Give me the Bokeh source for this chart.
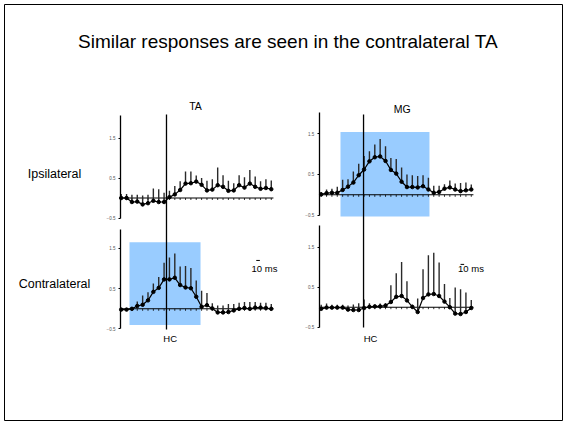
from bokeh.plotting import figure
from bokeh.models import Range1d, LinearAxis, FixedTicker, ColumnDataSource
from bokeh.embed import file_html
from bokeh.resources import INLINE
from bokeh.core.properties import value

# ---------------- data ----------------
title_text = "Similar responses are seen in the contralateral TA"
muscles = ["TA", "MG"]
sides = ["Ipsilateral", "Contralateral"]
event_label = "HC"
scale_label = "10 ms"

bins = list(range(29))          # time bins
hc_bin_ta = 8.45                # HC event position (bins), TA column
hc_bin_mg = 7.9                 # HC event position (bins), MG column
scale_bins = 0.67               # 10 ms expressed in bins

ta_ipsi_mean = [0.0, 0.0, -0.1, -0.09, -0.16, -0.13, -0.07, -0.1, -0.1, 0.02, 0.09, 0.2, 0.36, 0.37, 0.41,
                0.33, 0.19, 0.21, 0.32, 0.28, 0.18, 0.19, 0.32, 0.26, 0.36, 0.28, 0.23, 0.25, 0.22]
ta_ipsi_sem = [0.1, 0.1, 0.18, 0.17, 0.22, 0.21, 0.31, 0.32, 0.23, 0.16, 0.21, 0.22, 0.3, 0.29, 0.15,
               0.17, 0.24, 0.26, 0.44, 0.29, 0.25, 0.18, 0.25, 0.26, 0.34, 0.26, 0.19, 0.22, 0.22]

mg_ipsi_mean = [0.01, 0.04, 0.05, 0.05, 0.12, 0.2, 0.3, 0.48, 0.62, 0.82, 0.92, 0.94, 0.83, 0.61, 0.52,
                0.32, 0.19, 0.19, 0.18, 0.21, 0.13, 0.05, 0.07, 0.15, 0.18, 0.13, 0.09, 0.11, 0.13]
mg_ipsi_sem = [0.06, 0.09, 0.1, 0.15, 0.25, 0.18, 0.27, 0.28, 0.33, 0.25, 0.31, 0.43, 0.36, 0.29, 0.36,
               0.35, 0.31, 0.29, 0.28, 0.27, 0.29, 0.17, 0.15, 0.11, 0.17, 0.15, 0.2, 0.19, 0.12]

ta_contra_mean = [-0.02, -0.02, 0.0, 0.07, 0.1, 0.21, 0.42, 0.52, 0.73, 0.73, 0.77, 0.59, 0.53, 0.51, 0.3,
                  0.05, 0.09, 0.01, -0.09, -0.09, -0.08, -0.04, 0.0, 0.02, 0.0, 0.03, 0.03, 0.02, 0.0]
ta_contra_sem = [0.04, 0.04, 0.04, 0.11, 0.23, 0.2, 0.21, 0.27, 0.41, 0.54, 0.6, 0.46, 0.53, 0.5, 0.4,
                 0.4, 0.3, 0.13, 0.17, 0.17, 0.2, 0.16, 0.15, 0.15, 0.17, 0.14, 0.12, 0.13, 0.12]

mg_contra_mean = [-0.04, -0.01, -0.01, -0.01, -0.01, -0.06, -0.07, -0.07, -0.02, 0.01, 0.02, 0.02, 0.04, 0.13,
                  0.26, 0.28, 0.17, 0.01, -0.12, 0.23, 0.32, 0.33, 0.28, 0.14, 0.0, -0.16, -0.17, -0.12, -0.02]
mg_contra_sem = [0.1, 0.1, 0.07, 0.07, 0.07, 0.1, 0.14, 0.17, 0.21, 0.09, 0.05, 0.07, 0.06, 0.42,
                 0.59, 0.85, 0.48, 0.05, 0.34, 0.72, 0.98, 1.03, 0.84, 0.44, 0.23, 0.65, 0.62, 0.49, 0.2]

# analysis windows (bins, response units): left, right, bottom, top
mg_ipsi_window = [3.6, 20.2, -0.53, 1.54]
ta_contra_window = [1.55, 14.8, -0.4, 1.65]

y_ticks = [-0.5, 0.5, 1.5]

# ---------------- layout ----------------
W, H = 564, 424
FX0, FY0, FX1, FY1 = 4, 4, 562, 420   # slide frame in page pixels
FW, FH = FX1 - FX0, FY1 - FY0
FONT = "Liberation Sans"


def xrange_for(page_first, k):
    s = -(page_first - FX0) / k
    return Range1d(s, s + FW / k)


def yrange_for(page_zero, k):
    f0 = page_zero - FY0
    return Range1d(-(FH - f0) / k, f0 / k)


p = figure(width=W, height=H, output_backend="svg", toolbar_location=None,
           x_range=Range1d(FX0, FX1), y_range=Range1d(FY1, FY0),
           x_axis_type=None, y_axis_type=None,
           min_border_left=FX0, min_border_right=W - FX1,
           min_border_top=FY0, min_border_bottom=H - FY1)
p.outline_line_color = "black"
p.outline_line_width = 1
p.background_fill_color = "white"
p.border_fill_color = "white"

p.extra_x_ranges = {"ta": xrange_for(120.7, 5.36), "mg": xrange_for(320.7, 5.36)}
p.extra_y_ranges = {
    "ta_i": yrange_for(197.5, 40.0),
    "mg_i": yrange_for(194.3, 40.8),
    "ta_c": yrange_for(308.3, 40.3),
    "mg_c": yrange_for(306.7, 40.0),
}


def panel(xr, yr, mean, sem, axis_x, top_bound, window=None):
    kw = dict(x_range_name=xr, y_range_name=yr)
    if window is not None:
        p.quad(left=[window[0]], right=[window[1]], bottom=[window[2]], top=[window[3]],
               fill_color="#99ccff", line_color=None, **kw)
    src = ColumnDataSource(dict(x=bins, y=mean, top=[m + s for m, s in zip(mean, sem)]))
    # zero line with bin ticks
    p.segment(x0=[axis_x], y0=[0], x1=[bins[-1] + 0.4], y1=[0], line_color="black", line_width=1.1, **kw)
    p.segment(x0=bins, y0=[0] * len(bins), x1=bins, y1=[-0.05] * len(bins),
              line_color="black", line_width=0.8, **kw)
    # upward error bars
    p.segment(x0="x", y0="y", x1="x", y1="top", source=src, line_color="#2a2a2a", line_width=1.4, **kw)
    p.line(x="x", y="y", source=src, line_color="black", line_width=1.2, **kw)
    p.scatter(x="x", y="y", source=src, size=3.5, color="black", **kw)
    ax = LinearAxis(x_range_name=xr, y_range_name=yr, fixed_location=axis_x,
                    bounds=(-0.5, top_bound), ticker=FixedTicker(ticks=y_ticks))
    ax.axis_line_color = "black"
    ax.axis_line_width = 1.3
    ax.major_tick_line_color = "black"
    ax.major_tick_out = 2
    ax.major_tick_in = 0
    ax.minor_tick_line_color = None
    ax.major_label_text_font = FONT
    ax.major_label_text_font_size = "4.5px"
    ax.major_label_text_color = "#555555"
    ax.major_label_standoff = 3
    p.add_layout(ax, "left")


panel("ta", "ta_i", ta_ipsi_mean, ta_ipsi_sem, -0.13, 2.06)
panel("mg", "mg_i", mg_ipsi_mean, mg_ipsi_sem, -0.37, 2.02, mg_ipsi_window)
panel("ta", "ta_c", ta_contra_mean, ta_contra_sem, -0.13, 1.98, ta_contra_window)
panel("mg", "mg_c", mg_contra_mean, mg_contra_sem, -0.37, 2.05)

# HC event lines spanning both rows (x in data bins, y in slide pixels)
p.segment(x0=[hc_bin_ta], y0=[114], x1=[hc_bin_ta], y1=[329], x_range_name="ta",
          line_color="black", line_width=1.3)
p.segment(x0=[hc_bin_mg], y0=[114], x1=[hc_bin_mg], y1=[327], x_range_name="mg",
          line_color="black", line_width=1.3)

# 10 ms scale bars
p.segment(x0=[25.2], y0=[1.2], x1=[25.2 + scale_bins], y1=[1.2], x_range_name="ta", y_range_name="ta_c",
          line_color="black", line_width=1)
p.segment(x0=[26.0], y0=[1.07], x1=[26.0 + scale_bins], y1=[1.07], x_range_name="mg", y_range_name="mg_c",
          line_color="black", line_width=1)

tkw = dict(text_font=value(FONT), text_align="center", text_baseline="middle", text_color="black")
p.text(x=[287.5], y=[41], text=[title_text], text_font_size="19px", **tkw)
p.text(x=[54, 54], y=[173, 283], text=sides, text_font_size="12.5px", **tkw)
p.text(x=[195, 401.7], y=[105, 108.5], text=muscles, text_font_size="10.5px", **tkw)
p.text(x=[169.7, 370], y=[338, 338], text=[event_label, event_label], text_font_size="9.5px", **tkw)
p.text(x=[264, 470.5], y=[268.3, 268.3], text=[scale_label, scale_label], text_font_size="9.5px", **tkw)

open("out.html", "w").write(file_html(p, INLINE))
